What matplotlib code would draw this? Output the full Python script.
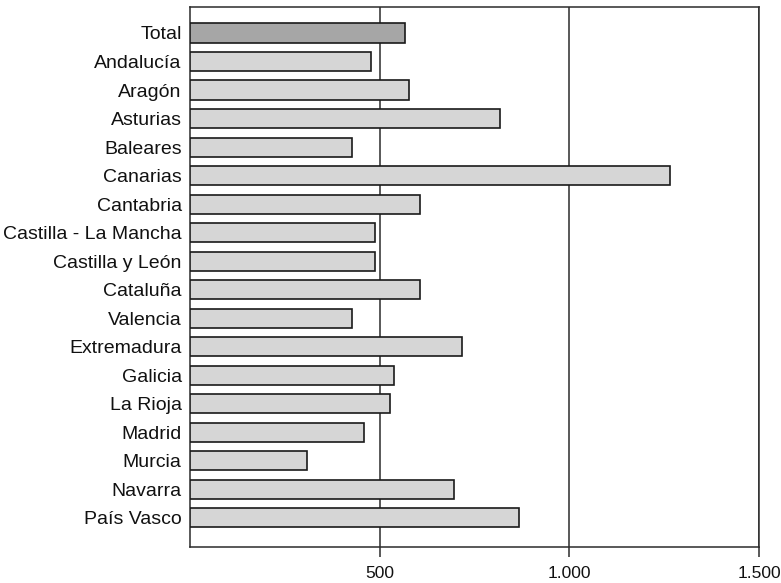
import matplotlib
matplotlib.use("Agg")
import numpy as np
from matplotlib import pyplot as plt
from matplotlib.ticker import FixedLocator, FuncFormatter

plt.rcParams["font.family"] = ["Liberation Sans", "DejaVu Sans"]

regions = [
    "Total", "Andalucía", "Aragón", "Asturias", "Baleares", "Canarias",
    "Cantabria", "Castilla - La Mancha", "Castilla y León", "Cataluña",
    "Valencia", "Extremadura", "Galicia", "La Rioja", "Madrid", "Murcia",
    "Navarra", "País Vasco",
]
values = [568, 478, 578, 817, 428, 1265, 607, 488, 488, 607,
          428, 718, 538, 528, 459, 308, 697, 867]
ticks = [500, 1000, 1500]

fig = plt.figure(figsize=(7.81, 5.83), dpi=100)
ax = fig.add_axes([0.2433, 0.0617, 0.7285, 0.9263])

ypos = np.arange(len(regions))
colors = ["#a6a6a6"] + ["#d6d6d6"] * (len(regions) - 1)
ax.barh(ypos, values, height=0.67, color=colors, edgecolor="#1a1a1a",
        linewidth=1.2, zorder=3)

for t in ticks:
    ax.axvline(t, color="#2b2b2b", lw=1.1, zorder=1)

ax.set_xlim(0, 1500)
ax.set_ylim(len(regions) + 0.02, -0.91)
ax.set_yticks(ypos)
ax.set_yticklabels(regions)
ax.xaxis.set_major_locator(FixedLocator(ticks))
ax.xaxis.set_major_formatter(FuncFormatter(lambda v, p: f"{v:,.0f}".replace(",", ".")))
ax.tick_params(axis="y", length=0, pad=6, labelsize=14, colors="#111111")
ax.tick_params(axis="x", length=7, width=1.1, pad=7, labelsize=12.5,
               colors="#2b2b2b", labelcolor="#111111")
for s in ax.spines.values():
    s.set_color("#2b2b2b")
    s.set_linewidth(1.1)

fig.savefig("out.png", dpi=100)
